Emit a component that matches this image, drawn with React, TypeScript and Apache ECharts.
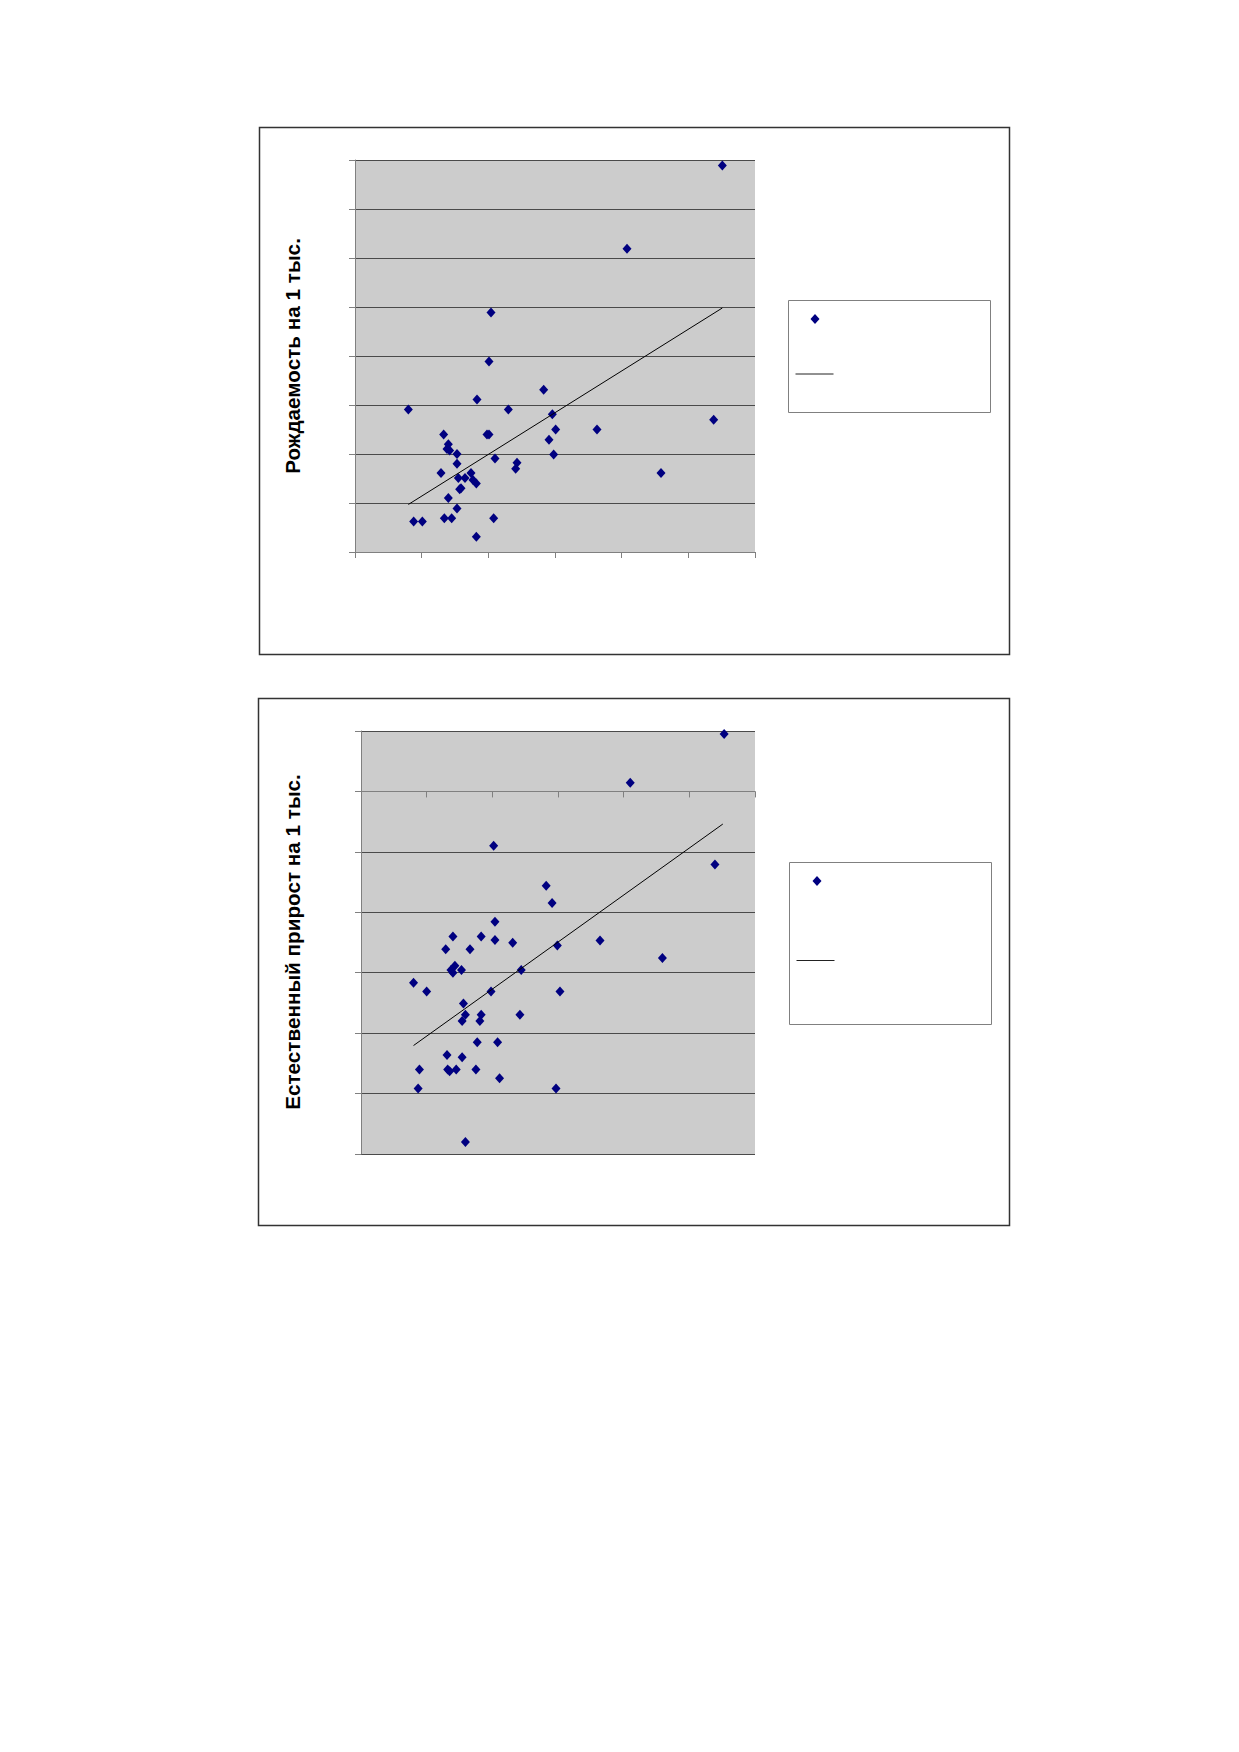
import React, { useEffect, useRef } from "react";
import * as echarts from "echarts";

// Chart 1: birth rate per 1000 (axis tick labels are not visible in the reference)
const birthX = [5.51, 4.08, 2.04, 2.01, 2.83, 1.83, 0.80, 2.30, 2.96, 5.38, 3.01, 3.63, 1.33, 1.98, 2.01, 2.91, 1.40, 1.38, 1.42, 1.53, 2.98, 2.10, 1.53, 2.43, 2.41, 1.29, 1.74, 1.55, 1.65, 1.77, 1.82, 1.59, 1.57, 4.59, 1.40, 1.53, 0.88, 1.01, 1.34, 1.45, 2.08, 1.82];
const birthY = [7.89, 6.19, 4.89, 3.89, 3.31, 3.11, 2.91, 2.91, 2.81, 2.70, 2.50, 2.50, 2.40, 2.40, 2.40, 2.29, 2.20, 2.10, 2.07, 2.00, 1.99, 1.91, 1.80, 1.82, 1.70, 1.61, 1.61, 1.51, 1.51, 1.47, 1.40, 1.30, 1.28, 1.61, 1.10, 0.89, 0.62, 0.62, 0.69, 0.69, 0.69, 0.31];
const birthTrendX = [0.80, 5.51];
const birthTrendY = [0.97, 4.98];

// Chart 2: natural growth per 1000
const growthX = [5.53, 4.10, 2.02, 5.39, 2.82, 2.91, 2.04, 1.40, 1.83, 2.04, 2.31, 3.64, 2.99, 1.29, 1.66, 4.59, 1.43, 1.37, 1.53, 1.40, 2.44, 0.80, 1.00, 1.98, 3.03, 1.56, 1.59, 1.83, 2.42, 1.54, 1.81, 1.77, 2.08, 1.31, 1.54, 0.89, 1.32, 1.35, 1.45, 1.75, 2.11, 0.87, 2.97, 1.59];
const growthY = [1.90, 0.29, -1.80, -2.42, -3.12, -3.69, -4.31, -4.80, -4.80, -4.92, -5.01, -4.93, -5.10, -5.22, -5.22, -5.51, -5.77, -5.91, -5.91, -6.00, -5.91, -6.33, -6.62, -6.62, -6.62, -7.02, -7.39, -7.39, -7.39, -7.60, -7.60, -8.30, -8.30, -8.72, -8.80, -9.20, -9.20, -9.26, -9.20, -9.20, -9.49, -9.83, -9.83, -11.60];
const growthTrendX = [0.80, 5.51];
const growthTrendY = [-8.41, -1.08];

const title1 = "Рождаемость на 1 тыс.";
const title2 = "Естественный прирост на 1 тыс.";

const zip = (xs: number[], ys: number[]) => xs.map((x, i) => [x, ys[i]]);

const FONT = "'Liberation Sans', Arial, sans-serif";
const MARK = "#000080";
const GRID_LINE = "#4a4a4a";
const AXIS_LINE = "#808080";
const TITLE_SIZE = 20.7;

function axisX(gridIndex: number) {
  return {
    type: "value",
    gridIndex,
    min: 0,
    max: 6,
    interval: 1,
    axisLine: { show: true, onZero: true, lineStyle: { color: AXIS_LINE, width: 1 } },
    axisTick: { show: true, inside: false, length: 6, lineStyle: { color: AXIS_LINE } },
    axisLabel: { show: false },
    splitLine: { show: false },
  };
}

function axisY(gridIndex: number, min: number, max: number, interval: number) {
  return {
    type: "value",
    gridIndex,
    min,
    max,
    interval,
    axisLine: { show: true, onZero: true, lineStyle: { color: AXIS_LINE, width: 1 } },
    axisTick: { show: true, inside: false, length: 6, lineStyle: { color: AXIS_LINE } },
    axisLabel: { show: false },
    splitLine: { show: true, lineStyle: { color: GRID_LINE, width: 1 } },
  };
}

function legendBox(x: number, y: number, w: number, h: number, dx: number, dy: number, ly: number) {
  return [
    {
      type: "rect",
      shape: { x, y, width: w, height: h },
      style: { fill: "#ffffff", stroke: "#808080", lineWidth: 1 },
    },
    {
      type: "polygon",
      shape: { points: [[dx, dy - 5], [dx + 4.5, dy], [dx, dy + 5], [dx - 4.5, dy]] },
      style: { fill: MARK },
    },
    {
      type: "line",
      shape: { x1: x + 7, y1: ly, x2: x + 45, y2: ly },
      style: { stroke: "#222222", lineWidth: 1 },
    },
  ];
}

function vTitle(text: string, x: number, y: number) {
  return {
    type: "text",
    x,
    y,
    rotation: Math.PI / 2,
    style: {
      text,
      fill: "#000000",
      font: `bold ${TITLE_SIZE}px ${FONT}`,
      fontFamily: FONT,
      fontSize: TITLE_SIZE,
      fontWeight: "bold",
      textAlign: "center",
      textVerticalAlign: "middle",
    },
  };
}

export default function App() {
  const ref = useRef<HTMLDivElement>(null);

  useEffect(() => {
    if (!ref.current) return;
    const chart = echarts.init(ref.current, undefined, { renderer: "svg", width: 1239, height: 1752 });
    const scatterStyle = { color: MARK, opacity: 1 };
    const option: any = {
      animation: false,
      backgroundColor: "#ffffff",
      grid: [
        { left: 355, top: 160, width: 400, height: 392, show: true, backgroundColor: "#CCCCCC", borderWidth: 0 },
        { left: 361, top: 731, width: 394, height: 423, show: true, backgroundColor: "#CCCCCC", borderWidth: 0 },
      ],
      xAxis: [axisX(0), axisX(1)],
      yAxis: [axisY(0, 0, 8, 1), axisY(1, -12, 2, 2)],
      series: [
        {
          type: "scatter",
          xAxisIndex: 0,
          yAxisIndex: 0,
          symbol: "diamond",
          symbolSize: [9, 10],
          itemStyle: scatterStyle,
          data: zip(birthX, birthY),
          z: 3,
        },
        {
          type: "line",
          xAxisIndex: 0,
          yAxisIndex: 0,
          showSymbol: false,
          symbol: "none",
          lineStyle: { color: "#000000", width: 1 },
          data: zip(birthTrendX, birthTrendY),
          z: 4,
        },
        {
          type: "scatter",
          xAxisIndex: 1,
          yAxisIndex: 1,
          symbol: "diamond",
          symbolSize: [9, 10],
          itemStyle: scatterStyle,
          data: zip(growthX, growthY),
          z: 3,
        },
        {
          type: "line",
          xAxisIndex: 1,
          yAxisIndex: 1,
          showSymbol: false,
          symbol: "none",
          lineStyle: { color: "#000000", width: 1 },
          data: zip(growthTrendX, growthTrendY),
          z: 4,
        },
      ],
      graphic: [
        {
          type: "rect",
          z: -10,
          shape: { x: 259.5, y: 127.5, width: 750, height: 527 },
          style: { fill: "none", stroke: "#333333", lineWidth: 1.5 },
        },
        {
          type: "rect",
          z: -10,
          shape: { x: 258.5, y: 698.5, width: 751, height: 527 },
          style: { fill: "none", stroke: "#333333", lineWidth: 1.5 },
        },
        ...legendBox(788.5, 300.5, 202, 112, 815, 319, 374),
        ...legendBox(789.5, 862.5, 202, 162, 817, 881, 960.5),
        vTitle(title1, 292, 356),
        vTitle(title2, 292, 942),
      ],
    };
    chart.setOption(option);
    return () => chart.dispose();
  }, []);

  return (
    <div
      ref={ref}
      style={{ position: "absolute", left: 0, top: 0, width: 1239, height: 1752, background: "#ffffff" }}
    />
  );
}
